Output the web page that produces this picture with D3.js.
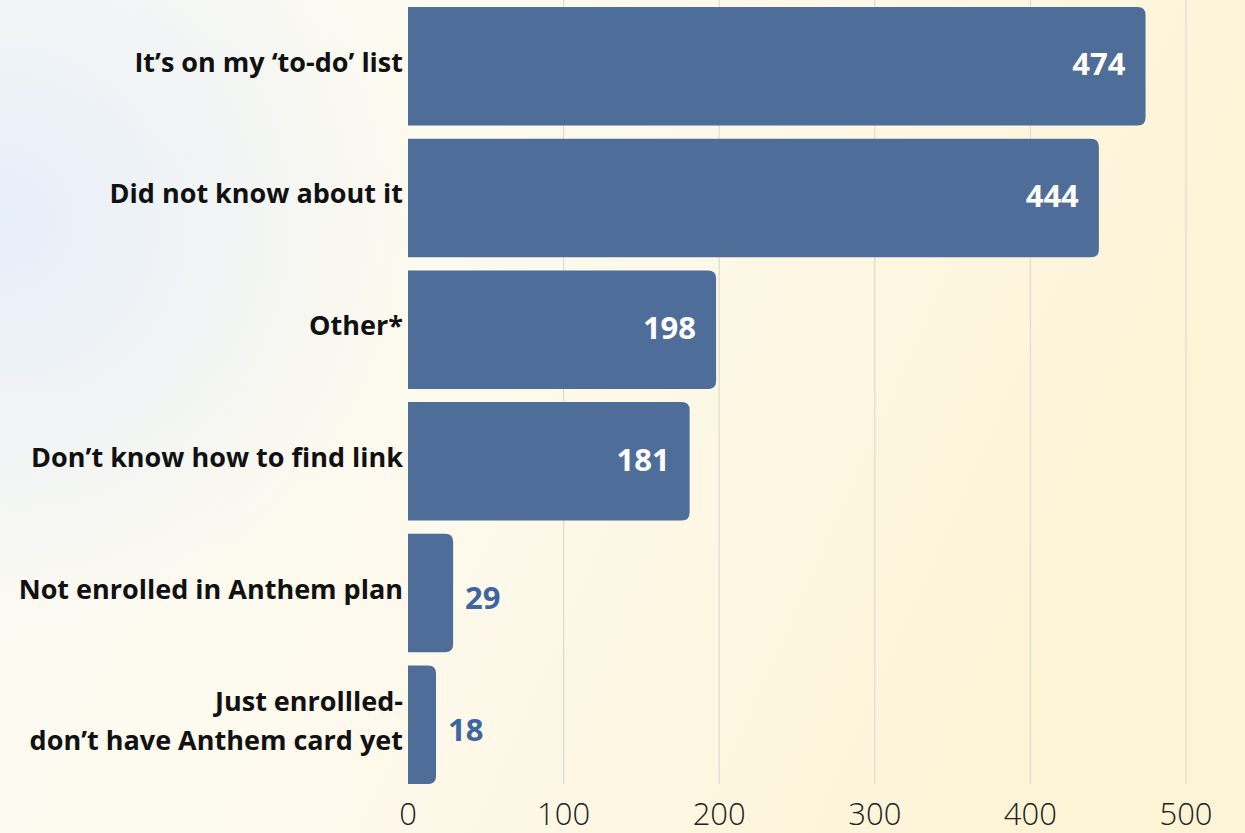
<!DOCTYPE html>
<html lang="en">
  <head>
    <meta charset="UTF-8" />
    <title>Reasons not registered</title>
    <script src="https://d3js.org/d3.v7.min.js"></script>
    <style>
      html, body {
        margin: 0;
        padding: 0;
        overflow: hidden;
      }
      body {
        font-family: "Open Sans", sans-serif;
      }
    </style>
  </head>
  <body>
    <svg id="chart" width="1245" height="833"></svg>

    <script>
      const categories = [
        "It\u2019s on my \u2018to-do\u2019 list",
        "Did not know about it",
        "Other*",
        "Don\u2019t know how to find link",
        "Not enrolled in Anthem plan",
        "Just enrollled-\ndon\u2019t have Anthem card yet",
      ];
      const counts = [474, 444, 198, 181, 29, 18];
      const xTicks = [0, 100, 200, 300, 400, 500];

      const svg = d3.select("#chart");
      const W = +svg.attr("width");
      const H = +svg.attr("height");

      // background: cream to pale yellow, with a pale blue glow at the left
      const defs = svg.append("defs");
      const grad = defs
        .append("linearGradient")
        .attr("id", "bg")
        .attr("x1", "0%")
        .attr("y1", "0%")
        .attr("x2", "100%")
        .attr("y2", "30%");
      grad.append("stop").attr("offset", "0%").attr("stop-color", "#fbfbf5");
      grad.append("stop").attr("offset", "50%").attr("stop-color", "#fdf9ec");
      grad.append("stop").attr("offset", "100%").attr("stop-color", "#fdf4d6");
      svg.append("rect").attr("width", W).attr("height", H).attr("fill", "url(#bg)");

      const glow = defs
        .append("radialGradient")
        .attr("id", "glow")
        .attr("cx", 0)
        .attr("cy", 220)
        .attr("r", 420)
        .attr("gradientUnits", "userSpaceOnUse");
      glow.append("stop").attr("offset", "0%").attr("stop-color", "#e6eef9").attr("stop-opacity", 1);
      glow.append("stop").attr("offset", "100%").attr("stop-color", "#e6eef9").attr("stop-opacity", 0);
      svg.append("rect").attr("width", W).attr("height", H).attr("fill", "url(#glow)");

      const x = d3.scaleLinear().domain([0, 500]).range([408, 1186]);
      const y = d3
        .scaleBand()
        .domain(categories)
        .range([0.4, 790.6])
        .paddingInner(0.1)
        .paddingOuter(0.05);

      const gridBottom = y(categories[categories.length - 1]) + y.bandwidth();

      // vertical grid lines
      svg
        .append("g")
        .selectAll("line")
        .data(xTicks.filter((t) => t > 0))
        .join("line")
        .attr("x1", (d) => x(d))
        .attr("x2", (d) => x(d))
        .attr("y1", 0)
        .attr("y2", gridBottom)
        .attr("stroke", "#dedbd0")
        .attr("stroke-width", 1.2);

      // bars with rounded right end
      const r = 8;
      const barPath = (v, cat) => {
        const x0 = x(0);
        const x1 = x(v);
        const y0 = y(cat);
        const y1 = y0 + y.bandwidth();
        return `M${x0},${y0}H${x1 - r}Q${x1},${y0} ${x1},${y0 + r}V${y1 - r}Q${x1},${y1} ${x1 - r},${y1}H${x0}Z`;
      };

      svg
        .append("g")
        .selectAll("path")
        .data(counts)
        .join("path")
        .attr("d", (d, i) => barPath(d, categories[i]))
        .attr("fill", "#4f6d99");

      // value labels: inside for long bars, outside for short ones
      svg
        .append("g")
        .selectAll("text")
        .data(counts)
        .join("text")
        .attr("x", (d) => (d > 100 ? x(d) - 20 : x(d) + 12))
        .attr("y", (d, i) => y(categories[i]) + y.bandwidth() / 2 + (d > 100 ? -2 : 5))
        .attr("dy", "0.36em")
        .attr("text-anchor", (d) => (d > 100 ? "end" : "start"))
        .attr("font-size", 31)
        .attr("font-weight", 700)
        .attr("fill", (d) => (d > 100 ? "#ffffff" : "#3b66a1"))
        .text((d) => d);

      // category labels
      const labels = svg
        .append("g")
        .selectAll("text")
        .data(categories)
        .join("text")
        .attr("text-anchor", "end")
        .attr("font-size", 27)
        .attr("font-weight", 700)
        .attr("fill", "#111");

      labels.each(function (d) {
        const lines = d.split("\n");
        const cy = y(d) + y.bandwidth() / 2 - 4;
        const lh = 39;
        d3.select(this)
          .selectAll("tspan")
          .data(lines)
          .join("tspan")
          .attr("x", 403)
          .attr("y", (l, j) => cy + (j - (lines.length - 1) / 2) * lh)
          .attr("dy", "0.35em")
          .text((l) => l);
      });

      // x axis tick labels
      svg
        .append("g")
        .selectAll("text")
        .data(xTicks)
        .join("text")
        .attr("x", (d) => x(d))
        .attr("y", 825)
        .attr("text-anchor", "middle")
        .attr("font-size", 31)
        .attr("font-weight", 300)
        .attr("fill", "#222")
        .text((d) => d);
    </script>
  </body>
</html>
